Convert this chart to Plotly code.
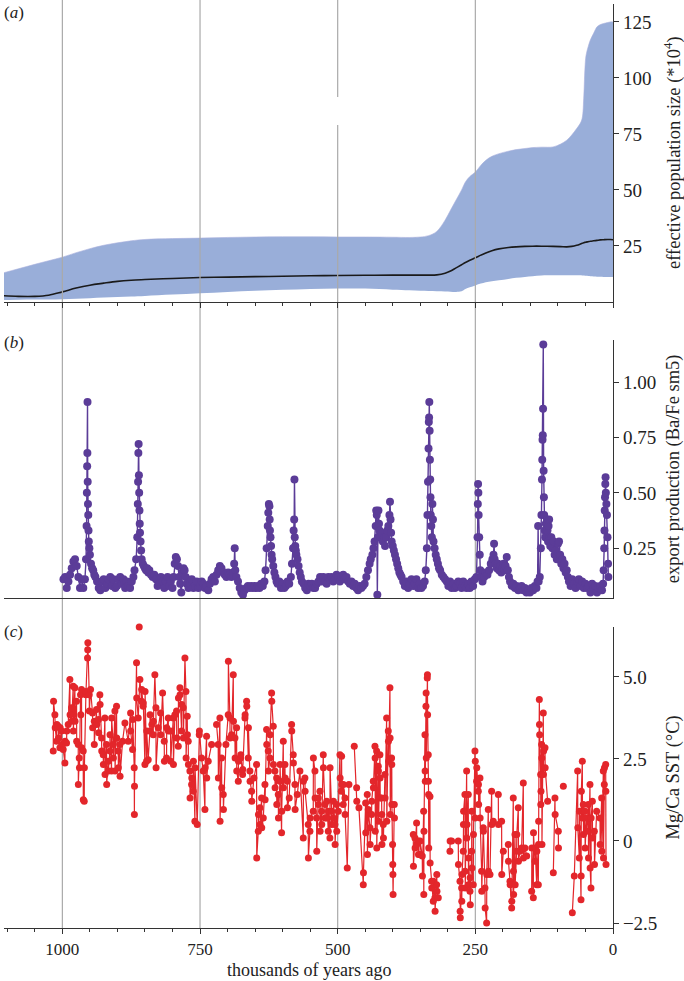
import plotly.graph_objects as go

# ---------------- panel (a): effective population size ----------------
ne_age = [1110, 1080, 1050, 1025, 1000, 975, 950, 925, 900, 875, 850, 800, 750, 700, 650,
          600, 550, 500, 450, 400, 370, 350, 335, 320, 305, 295, 285, 275, 268, 260,
          250, 240, 231, 220, 207, 190, 176, 160, 146, 130, 109, 95, 84, 75, 66,
          60, 56, 53, 51, 49, 45, 41, 35, 29, 23, 17, 10, 5, 0]
ne_upper = [12.8, 14.8, 16.8, 18.4, 20.0, 22.0, 23.8, 25.3, 26.4, 27.3, 27.9, 28.3, 28.5, 28.8, 29.0,
            29.1, 29.1, 29.0, 29.0, 28.9, 28.8, 29.0, 29.6, 31.5, 36.5, 41.0, 45.5, 50.0, 53.6, 56.0,
            58.0, 61.0, 63.2, 65.0, 66.2, 67.3, 68.0, 68.5, 68.9, 69.1, 69.2, 70.5, 72.2, 74.5, 77.4,
            79.5, 82.0, 92.0, 104.0, 110.0, 114.0, 117.0, 120.0, 122.8, 123.8, 124.3, 124.7, 125.0, 125.0]
ne_median = [2.8, 2.5, 2.5, 3.0, 4.5, 6.2, 7.5, 8.4, 9.2, 9.7, 10.0, 10.5, 10.9, 11.1, 11.3,
             11.5, 11.7, 11.8, 11.9, 12.0, 12.0, 12.0, 12.0, 12.1, 12.8, 13.8, 15.2, 16.6, 17.6, 18.6,
             19.7, 20.9, 21.9, 22.9, 23.7, 24.3, 24.6, 24.8, 24.9, 24.9, 24.8, 24.7, 24.6, 24.8, 25.3,
             25.8, 26.2, 26.4, 26.6, 26.7, 26.9, 27.1, 27.3, 27.5, 27.7, 27.8, 27.9, 27.9, 27.8]
ne_lower = [0.9, 1.0, 1.1, 1.1, 1.2, 1.4, 1.7, 2.0, 2.2, 2.4, 2.7, 3.3, 3.9, 4.5, 5.0,
            5.4, 5.8, 6.0, 6.0, 5.5, 5.2, 5.0, 4.9, 4.8, 4.7, 4.6, 4.5, 4.8, 5.8, 6.6,
            7.4, 8.2, 8.8, 9.3, 9.7, 10.3, 10.8, 11.2, 11.5, 11.8, 11.9, 11.9, 11.9, 11.9, 11.9,
            11.9, 11.8, 11.8, 11.7, 11.7, 11.6, 11.5, 11.4, 11.3, 11.3, 11.2, 11.2, 11.2, 11.2]

# ---------------- panel (b): export production Ba/Fe ----------------
bafe_age = [
    998, 995, 992, 989, 986, 983, 980, 977, 974, 971,
    968, 965, 962, 959, 957, 956, 955.5, 955, 954.6, 954.3,
    954, 953.5, 953, 952.5, 952, 951, 950, 948, 946, 944,
    942, 940, 937, 934, 931, 928, 925, 922, 919, 916,
    913, 910, 907, 904, 901, 898, 895, 892, 889, 886,
    883, 880, 877, 874, 871, 869, 866, 864, 863, 862.5,
    862, 861.5, 861, 860.5, 860, 859.5, 859, 858, 857, 856,
    854, 852, 850, 848, 846, 844, 842, 839, 836, 833,
    830, 827, 824, 821, 818, 815, 812, 809, 806, 803,
    800, 798, 796, 794, 792, 790, 788, 786, 784, 782,
    780, 778, 776, 774, 771, 768, 765, 762, 759, 756,
    753, 750, 747, 744, 741, 738, 735, 732, 729, 726,
    723, 720, 717, 714, 711, 708, 705, 702, 699, 696,
    693, 690, 688, 687, 686, 684, 681, 678, 675, 672,
    669, 666, 663, 660, 657, 654, 651, 648, 645, 642,
    639, 636, 633, 631, 629, 627, 626, 625, 624, 623.5,
    623, 622, 621, 620, 619, 617, 615, 613, 611, 609,
    606, 603, 600, 597, 594, 591, 588, 585, 583, 581,
    580, 579, 578.5, 578, 577, 576, 575, 573, 571, 569,
    567, 565, 562, 559, 556, 553, 550, 547, 544, 541,
    538, 535, 532, 529, 526, 523, 520, 517, 514, 511,
    508, 505, 502, 499, 496, 493, 490, 487, 484, 481,
    478, 475, 472, 469, 466, 463, 460, 457, 454, 451,
    448, 445, 442, 440, 437, 435, 433, 431, 430, 429,
    428, 427, 426, 425, 424, 422, 420, 418, 416, 414,
    412, 410, 408, 406, 405, 404, 403, 402, 400, 398,
    396, 394, 392, 390, 388, 386, 384, 381, 378, 375,
    372, 369, 366, 363, 360, 357, 354, 351, 348, 345,
    342, 340, 338, 337, 336, 335, 334.5, 334, 333.6, 333,
    332.5, 332, 331.5, 331, 330, 329, 328, 327, 326, 324,
    322, 320, 318, 316, 314, 311, 308, 305, 302, 299,
    296, 293, 290, 287, 284, 281, 278, 275, 272, 269,
    266, 263, 260, 257, 254, 251, 248, 246, 245.5, 245,
    244.5, 244, 243, 242, 241, 239, 237, 234, 231, 228,
    225, 222, 219, 217, 216, 215, 213, 211, 209, 207,
    205, 203, 201, 199, 197, 195, 193, 191, 189, 187,
    184, 181, 178, 175, 172, 169, 166, 163, 160, 157,
    154, 151, 148, 145, 142, 139, 137, 136, 135, 133,
    131, 130, 129, 128.5, 128, 127.5, 127, 126.6, 126, 125.5,
    125, 124, 123, 122, 121, 120, 119, 118, 117, 116,
    115, 114, 112, 110, 108, 106, 104, 102, 100, 98,
    96, 94, 92, 90, 88, 86, 84, 82, 80, 77,
    74, 71, 68, 65, 62, 59, 56, 53, 50, 47,
    44, 41, 38, 35, 32, 29, 26, 23, 20, 18,
    17, 16, 15.5, 15, 14.5, 14, 13.5, 13, 12, 11, 10, 9, 8.5]
bafe_val = [
    .11, .12, .07, .10, .13, .16, .19, .20, .17, .12,
    .07, .11, .07, .11, .20, .35, .50, .62, .68, .91,
    .55, .45, .40, .33, .28, .25, .22, .18, .16, .15,
    .13, .12, .10, .07, .06, .10, .11, .07, .09, .11,
    .12, .08, .11, .07, .08, .11, .12, .09, .11, .07,
    .10, .08, .07, .10, .12, .15, .20, .30, .45, .55,
    .68, .72, .58, .50, .42, .36, .32, .28, .24, .20,
    .18, .17, .16, .15, .16, .14, .15, .13, .12, .13,
    .11, .08, .09, .12, .10, .07, .10, .12, .08, .10,
    .07, .12, .18, .21, .20, .17, .12, .09, .05, .14,
    .16, .15, .12, .09, .07, .09, .11, .07, .08, .10,
    .07, .08, .10, .09, .07, .08, .06, .09, .11, .12,
    .10, .13, .15, .17, .16, .14, .13, .12, .14, .13,
    .12, .14, .18, .25, .15, .12, .10, .07, .05, .04,
    .06, .07, .08, .07, .08, .07, .08, .07, .08, .07,
    .09, .08, .10, .15, .25, .35, .41, .45, .44, .38,
    .33, .30, .26, .22, .20, .17, .14, .12, .10, .09,
    .10, .07, .09, .07, .08, .10, .09, .12, .18, .25,
    .33, .38, .56, .30, .26, .24, .22, .20, .17, .14,
    .12, .10, .09, .07, .06, .09, .08, .09, .07, .07,
    .09, .10, .12, .10, .12, .10, .09, .12, .11, .12,
    .10, .11, .13, .12, .10, .12, .13, .11, .12, .10,
    .09, .10, .08, .09, .07, .06, .08, .07, .08, .09,
    .12, .15, .18, .20, .22, .25, .28, .35, .42, .40,
    .04, .30, .42, .36, .33, .30, .32, .28, .30, .26,
    .30, .33, .35, .40, .46, .38, .32, .28, .26, .24,
    .22, .20, .18, .16, .14, .13, .12, .10, .08, .10,
    .07, .09, .11, .08, .09, .11, .07, .09, .07, .08,
    .10, .15, .25, .40, .55, .70, .82, .84, .91, .78,
    .65, .56, .48, .40, .35, .30, .45, .38, .28, .25,
    .22, .20, .18, .16, .15, .13, .12, .11, .10, .08,
    .10, .07, .09, .07, .08, .10, .09, .07, .10, .08,
    .07, .09, .07, .10, .08, .11, .12, .30, .45, .54,
    .50, .40, .30, .22, .15, .12, .10, .12, .14, .13,
    .15, .18, .20, .22, .27, .20, .18, .16, .18, .15,
    .17, .14, .16, .18, .15, .17, .21, .15, .12, .10,
    .08, .09, .07, .08, .06, .07, .08, .06, .07, .05,
    .06, .05, .07, .06, .08, .07, .10, .35, .10, .12,
    .25, .40, .56, .65, .74, .76, .88, 1.17, .60, .48,
    .40, .33, .30, .36, .30, .38, .33, .28, .35, .38,
    .30, .26, .30, .25, .28, .22, .24, .20, .27, .28,
    .22, .18, .20, .16, .18, .14, .15, .12, .10, .08,
    .11, .09, .07, .10, .11, .08, .10, .07, .09, .07,
    .08, .05, .09, .07, .08, .05, .07, .08, .06, .09,
    .15, .25, .33, .42, .48, .54, .57, .50, .45, .40, .30, .18, .12]

# ---------------- panel (c): Mg/Ca SST ----------------
sst_age = [
    1016.6, 1016.0, 1013.6, 1013.0, 1010.6, 1010.0, 1007.5, 1007.0, 1004.5, 1004.0,
    1001.5, 1001.0, 998.5, 995.4, 995.0, 992.4, 992.0, 989.4, 986.4, 986.0,
    983.3, 983.0, 980.3, 980.0, 977.3, 977.0, 974.2, 974.0, 971.2, 971.0,
    969.4, 969.0, 967.0, 966.5, 965.2, 965.0, 962.1, 962.0, 960.3, 960.0,
    957.3, 957.0, 954.3, 954.0, 953.7, 951.2, 951.0, 948.8, 945.2, 945.0,
    942.1, 942.0, 938.0, 937.7, 934.3, 934.0, 931.9, 931.5, 928.8, 928.5,
    925.8, 925.5, 922.8, 922.5, 919.7, 919.5, 916.7, 916.5, 913.7, 913.5,
    910.7, 910.5, 907.6, 907.3, 904.6, 904.3, 901.6, 901.3, 898.6, 898.3,
    895.5, 895.2, 890.7, 886.4, 880.4, 876.1, 876.0, 872.5, 872.2, 869.5,
    869.2, 869.0, 865.3, 865.0, 862.2, 859.2, 856.2, 856.0, 853.2,
    853.0, 850.1, 849.8, 847.1, 846.8, 844.1, 841.0, 840.7, 837.4, 835.0,
    834.7, 832.0, 830.1, 829.8, 825.9, 821.7, 821.4, 818.0, 815.0, 814.7,
    810.8, 810.5, 807.7, 807.4, 803.5, 803.2, 798.6, 798.3, 795.6, 792.6,
    792.3, 789.5, 789.2, 786.5, 786.2, 783.5, 783.2, 780.5, 780.2, 777.4,
    775.6, 775.3, 773.2, 772.9, 771.4, 771.1, 768.4, 768.1, 765.3, 765.0,
    762.3, 762.0, 759.3, 759.0, 755.1, 751.4, 751.1, 747.2, 744.2, 741.1,
    740.8, 738.1, 737.8, 735.1, 729.0, 720.0, 717.0, 716.7, 713.9, 713.6,
    710.9, 710.6, 707.8, 707.5, 703.0, 698.8, 698.5, 695.7, 695.4, 692.7,
    689.6, 689.3, 686.6, 686.3, 683.6, 683.3, 680.5, 680.2, 676.3, 676.0,
    672.7, 672.4, 668.4, 668.1, 665.4, 665.1, 662.4, 662.1, 659.4, 659.1,
    656.3, 656.0, 652.1, 647.3, 647.0, 644.2, 643.9, 641.2, 640.9, 638.2,
    637.9, 635.1, 632.1, 631.8, 629.1, 628.8, 626.1, 625.8, 623.0, 622.7,
    620.0, 619.7, 617.0, 616.7, 614.0, 613.7, 610.9, 610.6, 607.9, 607.6,
    604.9, 604.6, 601.9, 601.6, 598.8, 598.5, 595.8, 595.5, 591.6, 591.3,
    588.0, 583.7, 583.4, 580.7, 580.4, 577.6, 577.3, 573.4, 568.6, 562.5,
    562.2, 559.5, 559.2, 553.5, 553.2, 550.4, 550.1, 544.4, 544.1, 541.3,
    541.0, 538.3, 538.0, 535.3, 535.0, 532.2, 531.9, 529.2, 528.9, 526.2,
    525.9, 523.1, 522.8, 520.1, 519.8, 517.1, 516.8, 514.1, 513.8, 511.0,
    510.7, 508.0, 507.7, 505.0, 504.7, 502.0, 501.7, 498.9, 495.9, 495.6,
    493.5, 492.9, 492.6, 489.9, 489.6, 486.8, 486.5, 482.6, 479.6, 469.9,
    465.6, 465.3, 461.4, 453.5, 453.2, 449.3, 449.0, 446.3, 446.0, 444.5,
    441.4, 441.1, 438.4, 438.1, 435.4, 435.1, 432.3, 432.0, 431.7, 429.3,
    429.0, 426.3, 426.0, 425.7, 423.3, 423.0, 422.7, 420.2, 419.9, 419.6,
    417.2, 416.9, 414.2, 413.9, 411.1, 410.8, 408.1, 407.8, 407.5, 405.1,
    404.8, 404.5, 402.1, 401.8, 401.5, 400.3, 400.0, 399.7, 399.4, 397.2,
    396.9, 362.7, 362.4, 359.7, 359.4, 356.7, 356.4, 353.6, 353.3, 350.6,
    350.3, 346.4, 346.1, 343.9, 343.6, 343.3, 341.5, 341.2, 340.9, 339.7,
    339.4, 339.1, 337.3, 337.0, 336.7, 335.5, 335.2, 334.9, 334.6, 332.4,
    332.1, 329.4, 329.1, 326.4, 326.1, 323.4, 323.1, 320.3, 320.0, 319.7,
    317.3, 296.1, 295.8, 293.1, 281.0, 280.7, 277.9, 277.6, 277.3, 274.9,
    274.6, 274.3, 271.9, 271.6, 271.3, 268.9, 268.6, 268.3, 265.8, 265.5,
    265.2, 262.8, 262.5, 262.2, 259.8, 259.5, 259.2, 256.7, 256.4, 256.1,
    253.7, 253.4, 250.7, 250.4, 250.1, 247.7, 247.4, 244.6, 244.3, 244.0,
    241.6, 241.3, 238.6, 238.3, 235.6, 235.3, 232.5, 232.2, 229.5, 229.2,
    226.5, 226.2, 223.4, 220.4, 220.1, 217.4, 208.3, 208.0, 202.3, 202.0,
    199.2, 190.1, 189.8, 187.1, 186.8, 184.1, 183.8, 181.1, 180.8, 180.5,
    178.0, 177.7, 175.0, 174.7, 172.0, 171.7, 168.9, 165.9, 162.9, 162.6,
    159.9, 156.8, 147.7, 147.4, 144.7, 144.4, 141.7, 141.4, 138.6, 138.3,
    135.6, 135.3, 135.0, 133.8, 133.5, 133.2, 131.4, 131.1, 130.8, 129.6,
    129.3, 129.0, 126.6, 126.3, 126.0, 123.5, 123.2, 118.7, 108.4, 105.4,
    105.1, 99.3, 99.0, 90.2, 73.9, 70.3, 64.2, 63.9, 61.2, 60.9,
    58.1, 57.8, 57.5, 55.7, 55.4, 53.9, 53.6, 50.9, 50.6, 47.9,
    47.6, 44.8, 44.5, 41.8, 41.5, 40.0, 39.7, 37.5, 37.2, 33.9,
    33.6, 29.7, 23.6, 23.3, 20.6, 20.3, 17.6, 17.3, 15.8, 15.5,
    13.3, 13.0, 12.7]
sst_val = [
    2.74, 4.26, 3.85, 3.45, 3.04, 3.55, 3.50, 3.14, 2.84, 3.45,
    3.35, 2.94, 2.79, 2.38, 3.04, 2.99, 3.35, 3.55, 4.92, 3.85,
    4.06, 3.65, 4.72, 3.35, 4.67, 3.65, 4.26, 3.04, 2.94, 1.72,
    2.53, 2.23, 4.46, 3.85, 4.62, 2.84, 2.74, 1.26, 1.21, 2.23,
    4.46, 4.56, 5.58, 5.83, 6.04, 4.46, 3.96, 4.62, 3.90, 3.45,
    3.65, 2.94, 4.01, 3.55, 3.70, 3.30, 4.46, 4.16, 3.14, 2.74,
    2.63, 2.33, 3.75, 2.03, 2.94, 1.72, 2.43, 2.13, 2.74, 3.24,
    2.13, 3.75, 2.94, 2.53, 3.96, 2.13, 4.11, 3.14, 2.74, 2.23,
    2.94, 1.97, 3.04, 3.60, 3.04, 3.90, 3.35, 2.79, 3.70, 2.23,
    0.81, 1.67, 5.43, 4.36, 3.75, 4.92, 4.26, 4.62, 4.11,
    4.21, 2.33, 4.56, 2.43, 3.35, 2.48, 3.35, 3.85, 3.55, 3.24,
    3.65, 5.07, 4.06, 2.23, 3.45, 3.90, 3.24, 4.51, 3.04, 2.43,
    2.53, 3.45, 3.75, 3.35, 3.35, 2.43, 3.75, 2.33, 3.85, 3.96,
    3.14, 2.89, 4.36, 4.67, 4.46, 3.35, 4.16, 4.06, 3.14, 5.58,
    4.56, 2.53, 3.80, 3.24, 3.04, 2.33, 2.13, 1.31, 1.72, 1.92,
    1.52, 2.43, 0.60, 2.23, 0.50, 3.24, 3.35, 2.53, 2.13, 0.96,
    2.23, 3.19, 1.92, 2.43, 2.94, 3.55, 2.94, 1.92, 3.75, 0.60,
    2.53, 1.62, 1.42, 0.96, 2.94, 3.85, 5.48, 3.75, 3.14, 3.24,
    5.07, 3.65, 3.14, 2.53, 3.45, 2.13, 1.82, 2.43, 2.53, 2.63,
    2.03, 2.18, 3.75, 3.85, 4.26, 4.11, 2.53, 3.45, 2.13, 1.82,
    1.52, 1.21, 1.92, 2.33, -0.52, 0.30, 0.81, 1.01, 0.50, 1.31,
    0.40, 0.70, 1.72, 1.26, 3.40, 2.94, 2.74, 2.13, 2.53, 3.24,
    4.51, 4.26, 3.50, 2.33, 2.13, 1.62, 1.92, 1.11, 1.42, 0.70,
    1.82, 2.33, 0.25, 0.91, 3.04, 1.62, 2.33, 1.92, 1.82, 1.01,
    1.31, 3.55, 3.35, 2.63, 2.38, 1.72, 0.96, 1.42, 2.13, 0.09,
    1.82, 1.92, 1.52, 0.50, -0.52, 0.30, 0.70, 0.91, 2.53, 2.13,
    1.31, 0.70, -0.31, 1.31, 1.11, 1.52, 0.30, 0.91, 0.50, 2.63,
    2.23, 1.11, 0.70, 0.70, 1.21, 0.30, 0.91, 0.09, 2.23, 0.91,
    0.50, 0.70, 1.21, 0.50, -0.11, 1.11, 0.30, 0.91, 2.63, 1.92,
    1.52, 2.58, 1.72, 1.11, 1.72, 1.31, 0.81, -0.82, 1.72, 2.89,
    1.62, 1.21, 1.01, -1.33, -0.97, 1.16, 0.25, 1.42, -0.41, 0.96,
    0.40, -0.11, 0.81, 1.21, 1.82, 1.62, 2.89, 2.53, 0.30, 2.74,
    -0.21, 2.28, 2.13, 0.60, 2.63, 1.92, 1.31, 1.31, 0.81, -0.11,
    0.50, 0.09, 2.03, 1.31, 3.75, 0.60, 3.35, 3.04, 2.43, 4.67,
    3.14, 0.81, 2.53, 2.33, 1.11, -0.11, -0.72, -1.02, -1.63, 1.11,
    0.70, 0.20, -0.77, 0.09, -0.21, 0.55, -0.11, 0.00, -0.41, -0.41,
    0.00, -0.46, -1.07, 0.91, -1.63, 0.30, 3.24, 2.13, 1.82, 4.11,
    4.51, 2.53, 4.97, 5.07, 3.85, 2.63, 1.82, 1.42, -0.21, 1.36,
    -0.67, -1.23, -1.43, -1.84, -1.23, -1.73, -2.14, -1.33, -1.02, -1.53,
    -1.73, -0.31, 0.00, 0.00, 0.00, -0.72, -1.23, -2.14, -2.34, -1.43,
    -1.84, -1.02, -0.31, 0.50, 0.91, 1.42, -0.92, -1.43, 2.13, 0.09,
    0.50, 1.42, -1.33, -0.52, -1.53, -1.12, -1.94, -0.31, 0.91, -0.82,
    -1.33, 0.20, 2.74, 0.70, 2.43, 1.82, 2.23, 1.52, 1.72, 1.11,
    1.92, 0.70, -0.92, -1.53, 0.40, 0.30, -1.43, -2.04, -2.50, -1.02,
    0.96, -0.92, -1.02, 1.52, 0.50, 0.60, 1.42, 0.50, 0.60, -1.02,
    -0.31, -0.11, -0.62, -1.23, -1.33, -2.04, -1.84, 1.31, -0.92, -1.63,
    0.20, -1.33, -0.31, 0.20, 1.01, -0.62, -0.31, -0.21, 1.77, -0.52,
    -0.21, -0.46, -1.53, -0.21, -1.73, 0.25, -0.62, -0.21, -1.33, -0.31,
    -1.33, -0.11, 0.60, 4.31, 3.55, 3.24, 2.03, 1.11, 1.52, 2.94,
    2.53, -0.11, 3.90, 2.03, 2.74, 2.84, 2.23, 1.21, -0.97, 1.31,
    0.81, 0.30, -0.21, 1.67, -2.19, -1.07, 2.13, 0.40, -0.52, 0.91,
    -1.79, -1.07, 1.52, 2.43, 0.70, 1.11, 0.20, 0.91, -0.21, 0.70,
    0.30, 1.11, -0.52, 1.72, -0.82, -1.43, 0.70, 1.21, 0.09, 0.30,
    -0.72, 0.91, 0.70, -0.11, 1.31, -0.31, 2.13, -0.52, 1.72, 2.23,
    2.33, 1.52, -0.72]
# samples drawn without a connecting line
sst_lone_age = [860.4]
sst_lone_val = [6.52]

assert len(bafe_age) == len(bafe_val), (len(bafe_age), len(bafe_val))
assert len(sst_age) == len(sst_val), (len(sst_age), len(sst_val))

# break the SST line where samples are far apart
sx, sy = [], []
prev = None
for a, v in zip(sst_age, sst_val):
    if prev is not None and prev - a > 8:
        sx.append(None)
        sy.append(None)
    sx.append(a)
    sy.append(v)
    prev = a

FONT = "Liberation Serif, DejaVu Serif, serif"
AX = "#333333"
TXT = "#222222"
RED = "#e3262b"
GRID_X = [1000, 750, 500, 250]

fig = go.Figure()
fig.add_trace(go.Scatter(x=ne_age, y=ne_lower, mode="lines", line=dict(width=0, shape="spline"),
                         xaxis="x", yaxis="y", showlegend=False, hoverinfo="skip"))
fig.add_trace(go.Scatter(x=ne_age, y=ne_upper, mode="lines", fill="tonexty", fillcolor="#99aed9",
                         line=dict(width=0.6, color="#aab0dd", shape="spline"),
                         xaxis="x", yaxis="y", showlegend=False))
fig.add_trace(go.Scatter(x=ne_age, y=ne_median, mode="lines", line=dict(width=1.6, color="#1a1a1a", shape="spline"),
                         xaxis="x", yaxis="y", showlegend=False))
fig.add_trace(go.Scatter(x=bafe_age, y=bafe_val, mode="lines+markers",
                         line=dict(width=1.4, color="#5b3c98"),
                         marker=dict(size=8, color="#5b3c98"),
                         xaxis="x2", yaxis="y2", showlegend=False))
fig.add_trace(go.Scatter(x=sx, y=sy, mode="lines+markers", connectgaps=False,
                         line=dict(width=1.2, color=RED),
                         marker=dict(size=7, color=RED),
                         xaxis="x3", yaxis="y3", showlegend=False))
fig.add_trace(go.Scatter(x=sst_lone_age, y=sst_lone_val, mode="markers", cliponaxis=False,
                         marker=dict(size=7, color=RED),
                         xaxis="x3", yaxis="y3", showlegend=False))

xcommon = dict(range=[1106, 0], showgrid=False, zeroline=False, showline=True, linecolor=AX, linewidth=1.2,
               domain=[0, 1], tick0=0, dtick=250)
dom_a = [0.6746, 0.9957]
dom_b = [0.3553, 0.6336]
dom_c = [0.0, 0.3244]
ycommon = dict(side="right", showgrid=False, zeroline=False, showline=True, linecolor=AX, linewidth=1.2,
               ticks="outside", ticklen=5, tickcolor=AX, tickfont=dict(family=FONT, size=19, color=TXT))

fig.update_layout(
    width=684, height=981,
    margin=dict(l=4, r=71, t=0, b=53),
    paper_bgcolor="white", plot_bgcolor="rgba(0,0,0,0)",
    font=dict(family=FONT, size=17, color=TXT),
    xaxis=dict(**xcommon, anchor="y", ticks="outside", ticklen=5, tickcolor=AX, showticklabels=False,
               minor=dict(tick0=0, dtick=50, ticks="outside", ticklen=3, tickcolor=AX)),
    yaxis=dict(**ycommon, anchor="x", domain=dom_a, range=[0, 133], tickvals=[25, 50, 75, 100, 125]),
    xaxis2=dict(**xcommon, anchor="y2", ticks="", showticklabels=False),
    yaxis2=dict(**ycommon, anchor="x2", domain=dom_b, range=[0.024, 1.19],
                tickvals=[0.25, 0.5, 0.75, 1.0], ticktext=["0.25", "0.50", "0.75", "1.00"]),
    xaxis3=dict(**xcommon, anchor="y3", ticks="outside", ticklen=5, tickcolor=AX,
                tickfont=dict(family=FONT, size=17, color=TXT),
                minor=dict(tick0=0, dtick=50, ticks="outside", ticklen=3, tickcolor=AX)),
    yaxis3=dict(**ycommon, anchor="x3", domain=dom_c, range=[-2.652, 6.524],
                tickvals=[-2.5, 0, 2.5, 5.0], ticktext=["\u22122.5", "0", "2.5", "5.0"]),
)

shapes = []
for gx in GRID_X:
    if gx == 500:
        shapes.append(dict(type="line", xref="x", yref="paper", x0=gx, x1=gx, y0=dom_a[0], y1=0.8653,
                           line=dict(color="#aaaaaa", width=1.2), layer="above"))
        shapes.append(dict(type="line", xref="x", yref="paper", x0=gx, x1=gx, y0=0.8955, y1=1.0,
                           line=dict(color="#aaaaaa", width=1.2), layer="above"))
    else:
        shapes.append(dict(type="line", xref="x", yref="paper", x0=gx, x1=gx, y0=dom_a[0], y1=1.0,
                           line=dict(color="#aaaaaa", width=1.2), layer="above"))
    shapes.append(dict(type="line", xref="x", yref="paper", x0=gx, x1=gx, y0=0, y1=dom_a[0],
                       line=dict(color="#aaaaaa", width=1.2), layer="below"))
fig.update_layout(shapes=shapes)

ann = []
for txt, ypos in [("(<i>a</i>)", 0.987), ("(<i>b</i>)", 0.6304), ("(<i>c</i>)", 0.319)]:
    ann.append(dict(text=txt, xref="paper", yref="paper", x=0, y=ypos, xshift=-2, xanchor="left",
                    yanchor="middle", showarrow=False, font=dict(family=FONT, size=17, color=TXT)))
for txt, dom in [("effective population size (*10<sup>4</sup>)", dom_a),
                 ("export production (Ba/Fe sm5)", dom_b),
                 ("Mg/Ca SST (\u00b0C)", dom_c)]:
    ann.append(dict(text=txt, xref="paper", yref="paper", x=1, xshift=60, y=(dom[0] + dom[1]) / 2,
                    xanchor="center", yanchor="middle", textangle=-90, showarrow=False,
                    font=dict(family=FONT, size=18.5, color=TXT)))
ann.append(dict(text="thousands of years ago", xref="paper", yref="paper", x=0.5, y=-0.045,
                xanchor="center", yanchor="middle", showarrow=False,
                font=dict(family=FONT, size=18, color=TXT)))
fig.update_layout(annotations=ann)

fig.write_html("out.html",
               config={"displayModeBar": False},
               post_script="document.body.style.margin='0';document.body.style.padding='0';"
                           "document.body.style.overflow='hidden';")
